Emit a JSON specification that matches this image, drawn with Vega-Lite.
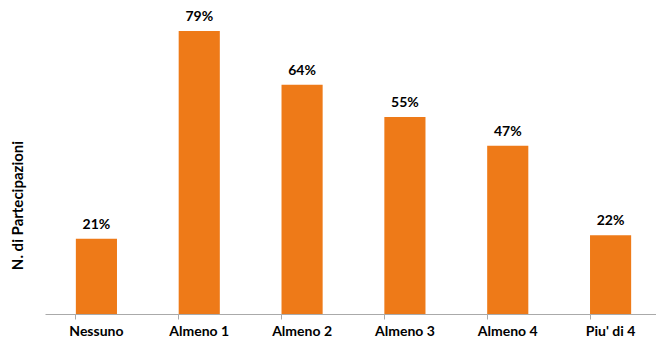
{
  "$schema": "https://vega.github.io/schema/vega-lite/v6.json",
  "autosize": {"type": "none"},
  "padding": {"left": 45, "top": 0, "right": 0, "bottom": 25},
  "width": 611,
  "height": 314,
  "background": "white",
  "config": {"view": {"stroke": null}, "font": "Lato"},
  "data": {"values": [
    {"categoria": "Nessuno", "valore": 0.21},
    {"categoria": "Almeno 1", "valore": 0.79},
    {"categoria": "Almeno 2", "valore": 0.64},
    {"categoria": "Almeno 3", "valore": 0.55},
    {"categoria": "Almeno 4", "valore": 0.47},
    {"categoria": "Piu' di 4", "valore": 0.22}
  ]},
  "encoding": {
    "x": {"field": "categoria", "type": "nominal", "sort": null,
      "scale": {"paddingInner": 0.6, "paddingOuter": 0.3, "range": [0, 617]},
      "axis": {"title": null, "labelAngle": 0, "labelFontSize": 14, "labelFontWeight": "bold", "labelColor": "#000", "labelPadding": 5,
        "domainColor": "#aaaaaa", "tickColor": "#aaaaaa", "tickSize": 5, "bandPosition": 0, "labelFont": "Lato"}},
    "y": {"field": "valore", "type": "quantitative", "scale": {"domain": [0, 0.8765], "nice": false},
      "axis": {"title": "N. di Partecipazioni", "domain": false, "ticks": false, "labels": false, "grid": false,
        "titleFontSize": 15, "titleFontWeight": "bold", "titleColor": "#000", "titleFont": "Lato",
        "titleAngle": -90, "titleX": -28, "titleY": 205, "titleAlign": "center", "titleBaseline": "middle"}}
  },
  "layer": [
    {"mark": {"type": "bar", "color": "#EE7A18"}},
    {"mark": {"type": "text", "baseline": "alphabetic", "dy": -10, "fontSize": 14, "fontWeight": "bold", "color": "#000", "font": "Lato"},
      "encoding": {"text": {"field": "valore", "type": "quantitative", "format": ".0%"}}}
  ]
}
